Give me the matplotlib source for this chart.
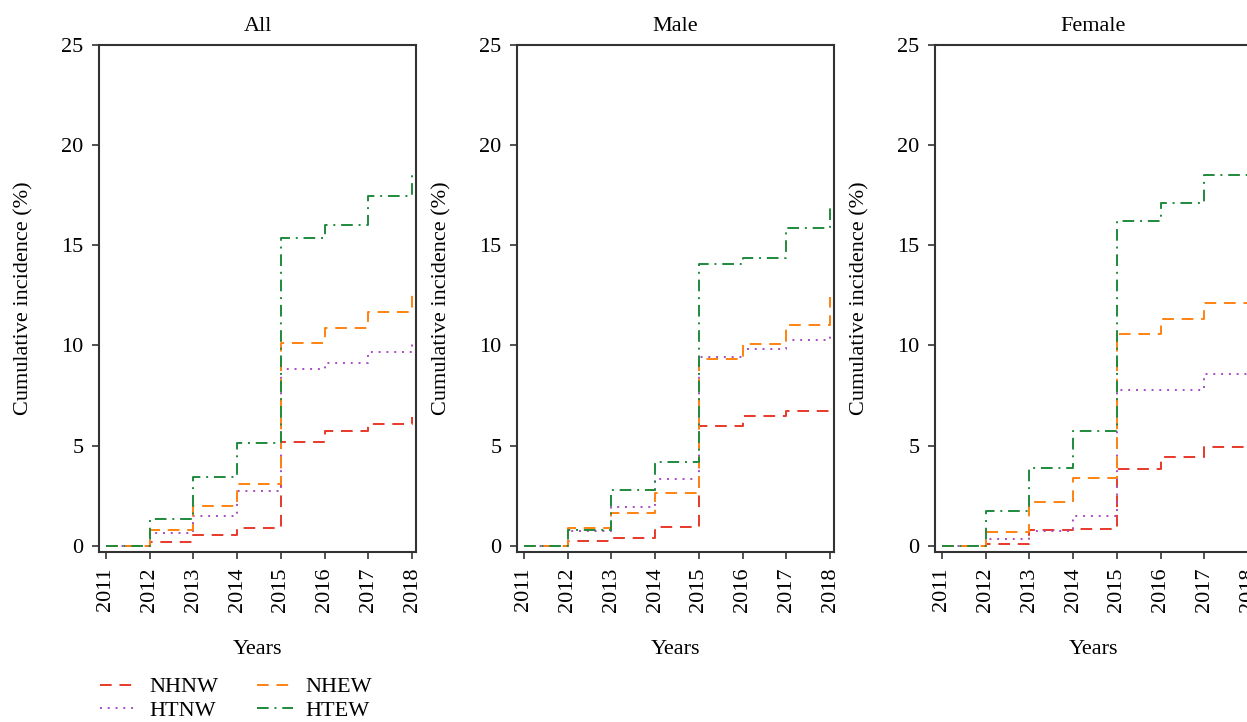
import matplotlib.pyplot as plt

plt.rcParams['font.family'] = ['Liberation Serif', 'DejaVu Serif']

anios = [2011, 2012, 2013, 2014, 2015, 2016, 2017, 2018]
paneles = ['All', 'Male', 'Female']
grupos = ['NHNW', 'HTNW', 'NHEW', 'HTEW']

# incidencia acumulada (%) por panel y grupo
todos_nhnw = [0, 0.19, 0.53, 0.90, 5.20, 5.75, 6.09, 6.44]
todos_htnw = [0, 0.62, 1.50, 2.73, 8.85, 9.13, 9.68, 10.25]
todos_nhew = [0, 0.79, 2.00, 3.09, 10.10, 10.85, 11.67, 12.57]
todos_htew = [0, 1.35, 3.44, 5.12, 15.38, 16.02, 17.45, 18.67]

hombres_nhnw = [0, 0.23, 0.38, 0.95, 5.97, 6.47, 6.72, 6.84]
hombres_htnw = [0, 0.76, 1.94, 3.34, 9.40, 9.83, 10.28, 10.62]
hombres_nhew = [0, 0.90, 1.66, 2.66, 9.31, 10.08, 11.00, 12.40]
hombres_htew = [0, 0.78, 2.80, 4.18, 14.09, 14.38, 15.85, 17.12]

mujeres_nhnw = [0, 0.10, 0.80, 0.83, 3.81, 4.45, 4.95, 5.30]
mujeres_htnw = [0, 0.35, 0.75, 1.50, 7.76, 7.76, 8.56, 9.40]
mujeres_nhew = [0, 0.70, 2.19, 3.36, 10.57, 11.33, 12.10, 12.66]
mujeres_htew = [0, 1.74, 3.90, 5.72, 16.22, 17.12, 18.53, 19.89]

datos = {
    'All': [todos_nhnw, todos_htnw, todos_nhew, todos_htew],
    'Male': [hombres_nhnw, hombres_htnw, hombres_nhew, hombres_htew],
    'Female': [mujeres_nhnw, mujeres_htnw, mujeres_nhew, mujeres_htew],
}

colores = ['#e8392b', '#a94bc4', '#ff8210', '#1e8a3c']
estilos = [(0, (6, 4)), (0, (1, 3)), (0, (6, 4)), (0, (6, 3, 1, 3))]

fig = plt.figure(figsize=(12.47, 7.22), dpi=100)

izquierdas = [99 / 1247, 517 / 1247, 935 / 1247]
ancho = 317 / 1247
abajo = 1 - 552 / 722
alto = (552 - 45) / 722

lineas = []
for i, panel in enumerate(paneles):
    ax = fig.add_axes([izquierdas[i], abajo, ancho, alto])
    for serie, color, estilo, nombre in zip(datos[panel], colores, estilos, grupos):
        l, = ax.plot(anios, serie, drawstyle='steps-post', color=color,
                     linestyle=estilo, linewidth=1.4, label=nombre)
        if i == 0:
            lineas.append(l)
    ax.set_xlim(2010.84, 2018.09)
    ax.set_ylim(-0.31, 25)
    ax.set_xticks(anios)
    ax.set_xticklabels([str(a) for a in anios], rotation=90)
    ax.set_yticks([0, 5, 10, 15, 20, 25])
    ax.tick_params(labelsize=16, length=5, width=1.2, pad=6, color='#333333')
    for s in ax.spines.values():
        s.set_linewidth(1.5)
        s.set_color('#333333')
    ax.set_title(panel, fontsize=16, pad=10)
    ax.set_xlabel('Years', fontsize=16, labelpad=20)
    ax.set_ylabel('Cumulative incidence (%)', fontsize=16, labelpad=20)

fig.legend(handles=lineas, labels=grupos, ncol=2, loc='upper left',
           bbox_to_anchor=(0.0732, 0.075), frameon=False, fontsize=16,
           handlelength=1.6, handletextpad=0.6, columnspacing=1.75,
           labelspacing=0.12, borderaxespad=0)

fig.savefig('out.png', dpi=100)
